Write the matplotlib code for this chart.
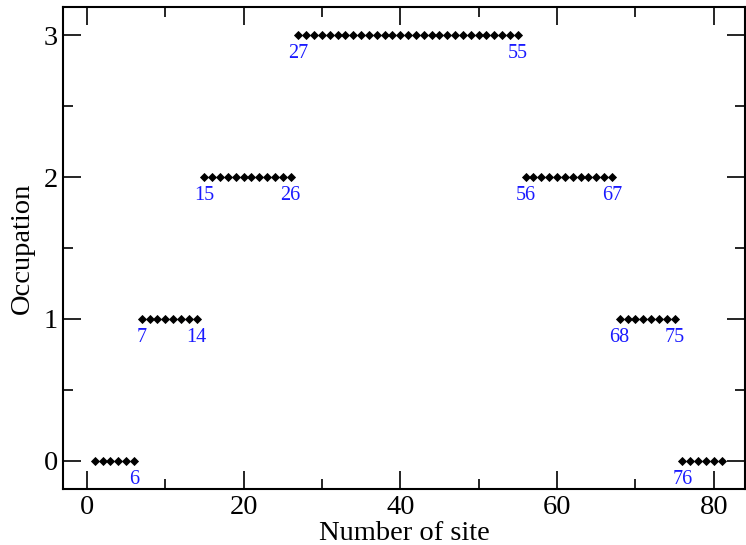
import numpy as np
from matplotlib import pyplot as plt
from matplotlib.ticker import MultipleLocator

# occupation per site, sites 1..81
sites = np.arange(1, 82)
occupation = np.array([0]*6 + [1]*8 + [2]*12 + [3]*29 + [2]*12 + [1]*8 + [0]*6)

# labelled boundary sites
label_sites = [6, 7, 14, 15, 26, 27, 55, 56, 67, 68, 75, 76]

plt.rcParams['font.family'] = ['Liberation Serif', 'DejaVu Serif']

fig = plt.figure(figsize=(7.46, 5.45), dpi=100)
ax = fig.add_axes([0.085, 0.1028, 0.9137, 0.8842])

ax.plot(sites, occupation, linestyle='none', marker='D', markersize=3.6,
        markeredgewidth=0.6, color='black')

for s in label_sites:
    ax.text(s, occupation[s - 1] - 0.13, str(s), color='#1a1aff',
            fontsize=14.5, ha='center', va='center')

ax.set_xlim(-3, 84)
ax.set_ylim(-0.2, 3.2)
ax.xaxis.set_major_locator(MultipleLocator(20))
ax.xaxis.set_minor_locator(MultipleLocator(10))
ax.yaxis.set_major_locator(MultipleLocator(1))
ax.yaxis.set_minor_locator(MultipleLocator(0.5))
ax.tick_params(which='both', direction='in', top=True, right=True,
               labelsize=20.5, width=1.2)
ax.tick_params(which='major', length=13, pad=4)
ax.tick_params(which='minor', length=7)
for sp in ax.spines.values():
    sp.set_linewidth(1.5)

ax.set_xlabel("Number of site", fontsize=20.5, labelpad=1)
ax.set_ylabel("Occupation", fontsize=20.5, labelpad=6)

fig.savefig("out.png")
